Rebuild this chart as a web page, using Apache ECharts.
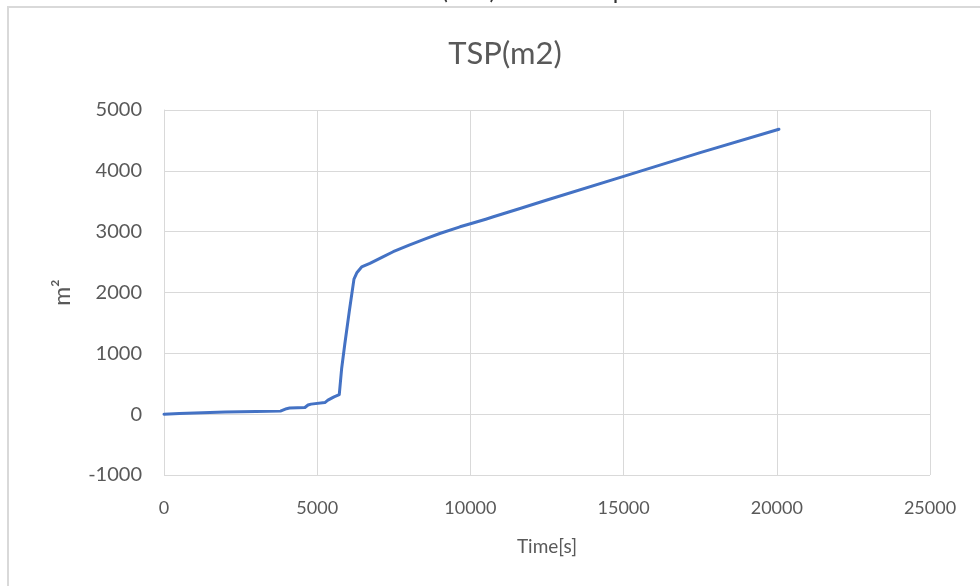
<!DOCTYPE html>
<html>
<head>
<meta charset="utf-8">
<script src="https://cdn.jsdelivr.net/npm/echarts@6/dist/echarts.min.js"></script>
<style>
  html, body { margin: 0; padding: 0; background: #ffffff; }
  #chart { width: 980px; height: 586px; }
</style>
</head>
<body>
<div id="chart"></div>
<script>
// Total smoke production over time
const timeSeconds = [0, 500, 1000, 2000, 3000, 3800, 4000, 4100, 4600, 4700, 4800, 5250, 5350, 5550, 5720,
  5800, 5900, 6050, 6200, 6300, 6450, 6720, 7160, 7480, 8000, 8570, 9000, 9660, 10000, 10500, 10750,
  11620, 12500, 15000, 17500, 20070];
const tspValues = [0, 10, 20, 35, 45, 50, 90, 100, 110, 150, 165, 190, 230, 285, 320,
  760, 1150, 1700, 2220, 2330, 2420, 2480, 2590, 2670, 2780, 2890, 2970, 3080, 3130, 3205, 3245,
  3380, 3520, 3910, 4300, 4683];
const xTicks = [0, 5000, 10000, 15000, 20000, 25000];
const yTicks = [-1000, 0, 1000, 2000, 3000, 4000, 5000];

const chartTitle = 'TSP(m2)';
const captionText = 'Total smoke release (TSP) of the samples versus time';
const xName = 'Time[s]';
const yName = 'm\u00B2';

const gridColor = '#d9d9d9';
const textColor = '#595959';
const plainNumber = (v) => String(v);

const chart = echarts.init(document.getElementById('chart'), null, { renderer: 'canvas' });

chart.setOption({
  backgroundColor: '#ffffff',
  animation: false,
  title: {
    text: chartTitle,
    left: 500,
    textAlign: 'center',
    top: 33,
    textStyle: { fontFamily: 'Lato', fontSize: 31, fontWeight: 'normal', color: textColor }
  },
  graphic: [
    {
      type: 'text',
      x: 506,
      y: 3,
      z: 1,
      style: {
        text: captionText,
        fontFamily: 'Lato',
        fontSize: 24,
        fill: '#333333',
        align: 'center',
        verticalAlign: 'bottom'
      },
      silent: true
    },
    {
      type: 'rect',
      z: 2,
      shape: { x: 8, y: 7, width: 1000, height: 620 },
      style: { fill: 'none', stroke: gridColor, lineWidth: 2 },
      silent: true
    },
    {
      type: 'rect',
      z: 1.5,
      shape: { x: 0, y: 5, width: 980, height: 20 },
      style: { fill: '#ffffff' },
      silent: true
    }
  ],
  grid: { left: 164, right: 50, top: 110, bottom: 111, containLabel: false },
  xAxis: {
    type: 'value',
    min: xTicks[0],
    max: xTicks[xTicks.length - 1],
    interval: xTicks[1] - xTicks[0],
    name: xName,
    nameLocation: 'middle',
    nameGap: 62,
    nameTextStyle: { fontFamily: 'Lato', fontSize: 19, color: textColor },
    axisLine: { show: true, onZero: true, lineStyle: { color: gridColor, width: 1 } },
    axisTick: { show: false },
    splitLine: { show: true, lineStyle: { color: gridColor, width: 1 } },
    axisLabel: {
      margin: 24,
      formatter: plainNumber,
      fontFamily: 'Lato',
      fontSize: 18,
      color: textColor
    }
  },
  yAxis: {
    type: 'value',
    min: yTicks[0],
    max: yTicks[yTicks.length - 1],
    interval: yTicks[1] - yTicks[0],
    name: yName,
    nameLocation: 'middle',
    nameRotate: 90,
    nameGap: 90,
    nameTextStyle: { fontFamily: 'Lato', fontSize: 23, color: textColor },
    axisLine: { show: true, lineStyle: { color: gridColor, width: 1 } },
    axisTick: { show: false },
    splitLine: { show: true, lineStyle: { color: gridColor, width: 1 } },
    axisLabel: {
      margin: 22,
      formatter: plainNumber,
      fontFamily: 'Lato',
      fontSize: 20,
      color: textColor
    }
  },
  series: [
    {
      name: chartTitle,
      type: 'line',
      data: timeSeconds.map((t, i) => [t, tspValues[i]]),
      showSymbol: false,
      smooth: false,
      lineStyle: { color: '#4472C4', width: 3, cap: 'round', join: 'round' },
      z: 5
    }
  ]
});
</script>
</body>
</html>
